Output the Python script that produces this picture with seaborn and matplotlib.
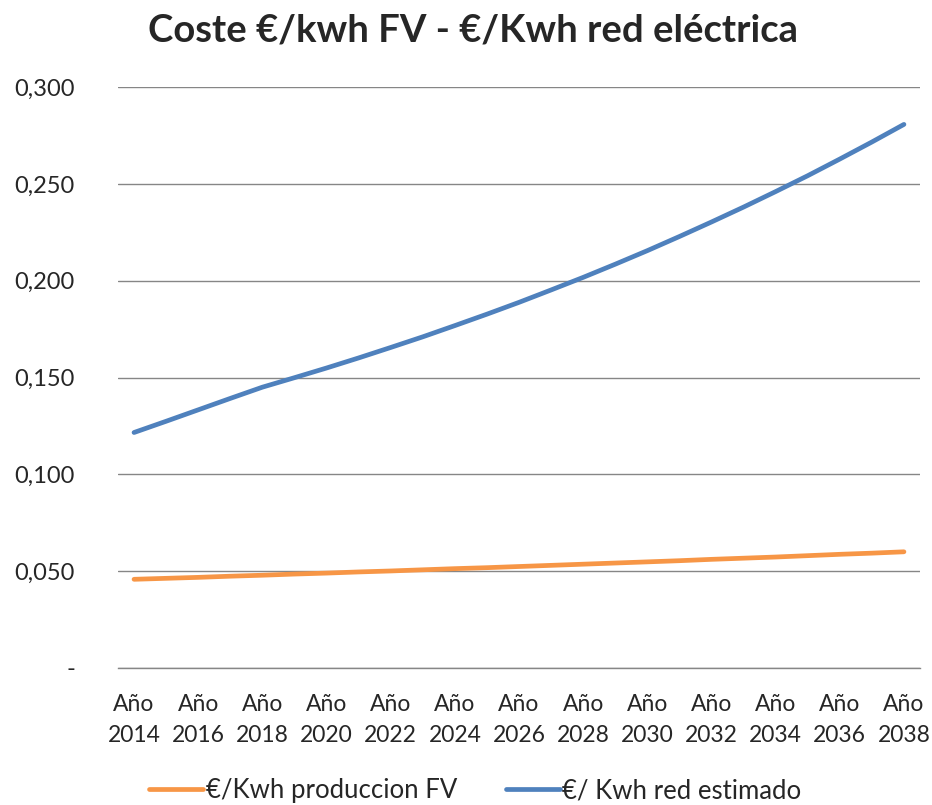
import numpy as np
import pandas as pd
import matplotlib
matplotlib.use("Agg")
import matplotlib.pyplot as plt
import seaborn as sns

# years and estimated values
years = list(range(2014, 2039))
coste_fv = [0.0458, 0.0463, 0.0468, 0.0474, 0.0479, 0.0485, 0.0490, 0.0496,
            0.0501, 0.0507, 0.0513, 0.0518, 0.0524, 0.0530, 0.0536, 0.0542,
            0.0548, 0.0554, 0.0561, 0.0567, 0.0573, 0.0580, 0.0587, 0.0593,
            0.0600]
coste_red = [0.1216, 0.1274, 0.1333, 0.1392, 0.1450, 0.1499, 0.1549, 0.1601,
             0.1655, 0.1710, 0.1768, 0.1827, 0.1888, 0.1952, 0.2017, 0.2085,
             0.2155, 0.2228, 0.2303, 0.2380, 0.2460, 0.2542, 0.2628, 0.2716,
             0.2807]
series_names = ["€/Kwh produccion FV", "€/ Kwh red estimado"]
y_ticks = [0.0, 0.05, 0.10, 0.15, 0.20, 0.25, 0.30]
y_labels = ["-", "0,050", "0,100", "0,150", "0,200", "0,250", "0,300"]
title = "Coste €/kwh FV - €/Kwh red eléctrica"

sns.set_style("white")
plt.rcParams["font.family"] = ["Lato", "DejaVu Sans"]

idx = list(range(len(years)))
df = pd.DataFrame({
    "idx": idx * 2,
    "valor": coste_fv + coste_red,
    "serie": [series_names[0]] * len(years) + [series_names[1]] * len(years),
})

fig = plt.figure(figsize=(9.32, 8.05), dpi=100)
ax = fig.add_axes([0.1266, 0.1702, 0.8605, 0.7217])

sns.lineplot(data=df, x="idx", y="valor", hue="serie",
             palette=["#F79646", "#4F81BD"], linewidth=3.4, ax=ax,
             solid_capstyle="round")

ax.set_xlim(-0.5, len(years) - 0.5)
ax.set_ylim(0, 0.30)
ax.set_yticks(y_ticks)
ax.set_yticklabels(y_labels, fontsize=17)
xt = idx[::2]
ax.set_xticks(xt)
ax.set_xticklabels([f"Año\n{years[i]}" for i in xt], fontsize=16.5, linespacing=1.55)
ax.tick_params(axis="x", length=0, pad=19)
ax.tick_params(axis="y", length=0, pad=31)
ax.yaxis.grid(True, color="#868686", linewidth=1.0)
ax.set_axisbelow(True)
for s in ["top", "right", "left"]:
    ax.spines[s].set_visible(False)
ax.spines["bottom"].set_color("#868686")
ax.spines["bottom"].set_linewidth(1.0)
ax.set_xlabel("")
ax.set_ylabel("")

fig.text(0.508, 0.962, title, ha="center", va="center",
         fontsize=27.5, fontweight="bold")

handles, labels = ax.get_legend_handles_labels()
ax.legend(handles, labels, loc="center", bbox_to_anchor=(0.51, 0.018),
          bbox_transform=fig.transFigure, ncol=2, frameon=False,
          fontsize=18.5, handlelength=2.1, handletextpad=0.1, columnspacing=1.9)

fig.savefig("out.png", dpi=100)
